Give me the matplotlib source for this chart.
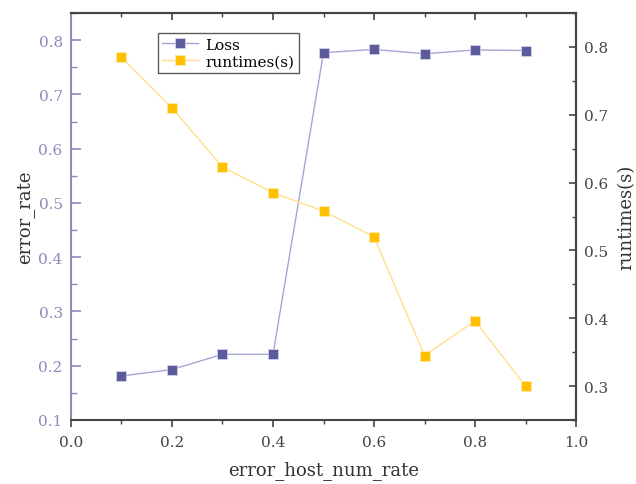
import matplotlib
matplotlib.use('Agg')
import matplotlib.pyplot as plt
from matplotlib.ticker import MultipleLocator

x_rate = [0.1, 0.2, 0.3, 0.4, 0.5, 0.6, 0.7, 0.8, 0.9]
loss = [0.181, 0.193, 0.221, 0.221, 0.777, 0.783, 0.775, 0.782, 0.781]
runtimes = [0.785, 0.710, 0.623, 0.585, 0.558, 0.520, 0.345, 0.396, 0.300]

plt.rcParams['font.family'] = ['DejaVu Serif', 'DejaVu Sans']

purple = '#5c5c9c'
purple_line = '#a6a6d2'
gold = '#ffc000'
gold_line = '#ffe08c'
left_col = '#8a8abb'
dark = '#444444'

fig = plt.figure(figsize=(6.36, 4.85), dpi=100)
ax = fig.add_axes([0.1116, 0.132, 0.7941, 0.839])
ax2 = ax.twinx()

l1, = ax.plot(x_rate, loss, color=purple_line, lw=1.0, marker='s', ms=7,
              mfc=purple, mec='#d0d0e8', mew=0.6, label='Loss')
l2, = ax2.plot(x_rate, runtimes, color=gold_line, lw=1.0, marker='s', ms=7,
               mfc=gold, mec='#ffe9a8', mew=0.6, label='runtimes(s)')

ax.set_xlim(0.0, 1.0)
ax.set_ylim(0.1, 0.85)
ax2.set_ylim(0.25, 0.85)

ax.xaxis.set_major_locator(MultipleLocator(0.2))
ax.xaxis.set_minor_locator(MultipleLocator(0.1))
ax.yaxis.set_major_locator(MultipleLocator(0.1))
ax.yaxis.set_minor_locator(MultipleLocator(0.05))
ax2.yaxis.set_major_locator(MultipleLocator(0.1))
ax2.yaxis.set_minor_locator(MultipleLocator(0.05))

fmt = lambda v, p: f'{v:.1f}'
ax.xaxis.set_major_formatter(fmt)
ax.yaxis.set_major_formatter(fmt)
ax2.yaxis.set_major_formatter(fmt)

# bottom ticks outward, top ticks inward
ax.tick_params(axis='x', which='both', direction='out', top=False, colors=dark,
               labelsize=11, pad=6)
ax.tick_params(axis='x', which='major', length=5, width=1.2)
ax.tick_params(axis='x', which='minor', length=3, width=1.0)
top = ax.secondary_xaxis('top')
top.xaxis.set_major_locator(MultipleLocator(0.2))
top.xaxis.set_minor_locator(MultipleLocator(0.1))
top.tick_params(axis='x', which='both', direction='in', colors=dark, labeltop=False)
top.tick_params(axis='x', which='major', length=5, width=1.2)
top.tick_params(axis='x', which='minor', length=3, width=1.0)
top.spines['top'].set_color(dark)
top.spines['top'].set_linewidth(1.5)

ax.tick_params(axis='y', which='both', direction='in', colors=left_col,
               labelsize=11, pad=6)
ax.tick_params(axis='y', which='major', length=7, width=1.2)
ax.tick_params(axis='y', which='minor', length=4, width=1.0)
ax2.tick_params(axis='y', which='both', direction='in', colors=dark,
                labelsize=11, pad=6)
ax2.tick_params(axis='y', which='major', length=5, width=1.2)
ax2.tick_params(axis='y', which='minor', length=3, width=1.0)

for side in ['top', 'bottom', 'right']:
    ax.spines[side].set_color(dark)
    ax.spines[side].set_linewidth(1.5)
ax.spines['left'].set_color(left_col)
ax.spines['left'].set_linewidth(1.5)
ax2.spines['right'].set_color(dark)
ax2.spines['right'].set_linewidth(1.5)
ax2.spines['left'].set_visible(False)
ax2.spines['top'].set_visible(False)
ax2.spines['bottom'].set_visible(False)

ax.set_xlabel('error_host_num_rate', fontsize=13, color='#333333', labelpad=8)
ax.set_ylabel('error_rate', fontsize=13, color='#333333', labelpad=3)
ax2.set_ylabel('runtimes(s)', fontsize=13, color='#333333', labelpad=6)

leg = ax.legend(handles=[l1, l2], loc='upper left', bbox_to_anchor=(0.172, 0.951),
                borderaxespad=0, fontsize=11, frameon=True, fancybox=False,
                borderpad=0.3, handlelength=2.3, handletextpad=0.5, labelspacing=0.2)
leg.get_frame().set_edgecolor('#333333')
leg.get_frame().set_linewidth(1.0)

fig.savefig('out.png', dpi=100)
